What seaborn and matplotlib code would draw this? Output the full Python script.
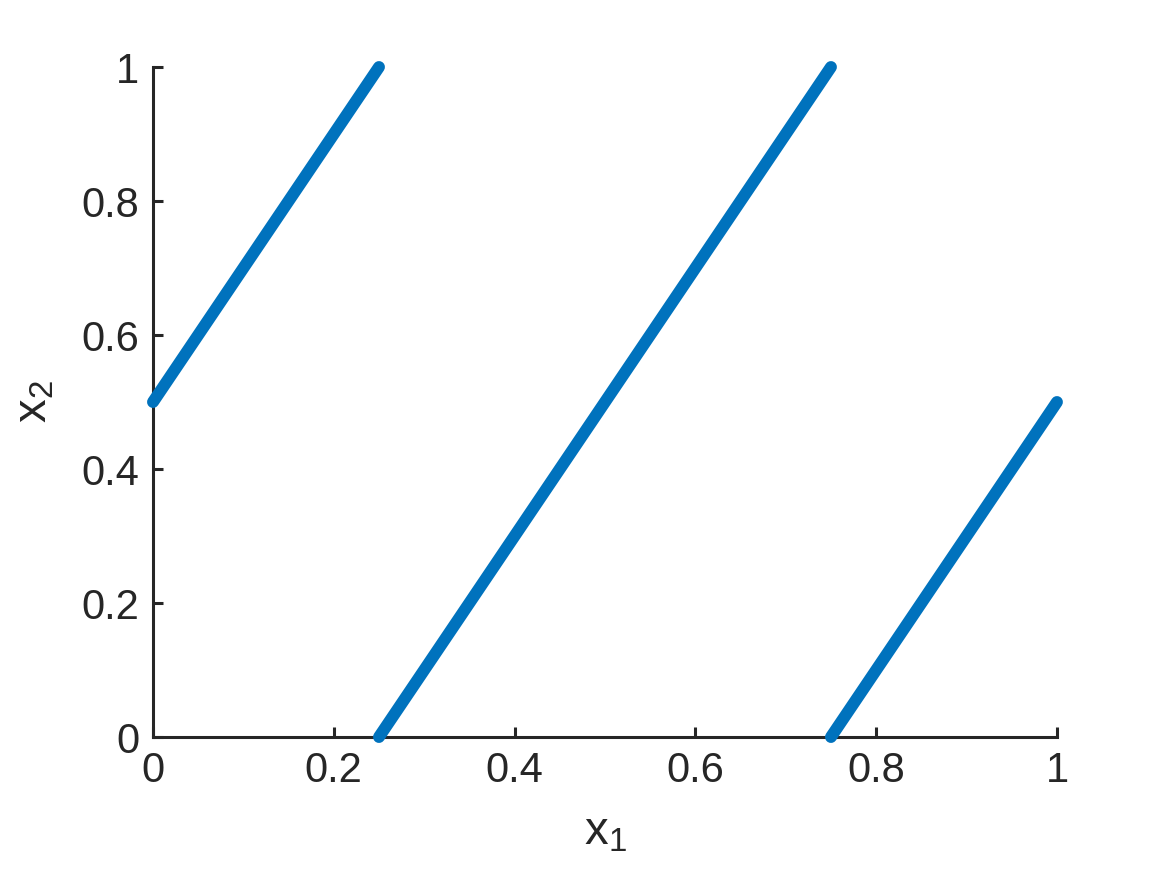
import numpy as np
import pandas as pd
import seaborn as sns
import matplotlib.pyplot as plt

# segment endpoints
seg_ids = [0, 0, 1, 1, 2, 2]
x1_vals = [0.0, 0.25, 0.25, 0.75, 0.75, 1.0]
x2_vals = [0.5, 1.0, 0.0, 1.0, 0.0, 0.5]
ticks = [0, 0.2, 0.4, 0.6, 0.8, 1]
tick_labels = ["0", "0.2", "0.4", "0.6", "0.8", "1"]

df = pd.DataFrame({"seg": seg_ids, "x1": x1_vals, "x2": x2_vals})

sns.set_style("ticks")
plt.rcParams["font.family"] = ["Liberation Sans", "DejaVu Sans"]
plt.rcParams["mathtext.default"] = "regular"

fig = plt.figure(figsize=(11.67, 8.75), dpi=100)
ax = fig.add_axes([0.1311, 0.1577, 0.7746, 0.7657])

sns.lineplot(data=df, x="x1", y="x2", units="seg", estimator=None, sort=False,
             color="#0072BD", linewidth=8.6, solid_capstyle="round", ax=ax)
for ln in ax.lines:
    ln.set_clip_on(False)
    ln.set_zorder(3)

ax.set_xlim(0, 1)
ax.set_ylim(0, 1)
ax.set_xticks(ticks)
ax.set_xticklabels(tick_labels)
ax.set_yticks(ticks)
ax.set_yticklabels(tick_labels)
sns.despine(ax=ax)
for s in ["left", "bottom"]:
    ax.spines[s].set_linewidth(2.2)
    ax.spines[s].set_color("#262626")
ax.tick_params(direction="in", length=7, width=2.2, color="#262626",
               labelsize=30, labelcolor="#262626", pad=10)
ax.set_xlabel("x$_1$", fontsize=34, color="#262626", labelpad=14)
ax.set_ylabel("x$_2$", fontsize=34, color="#262626", labelpad=18)

fig.savefig("out.png", dpi=100)
